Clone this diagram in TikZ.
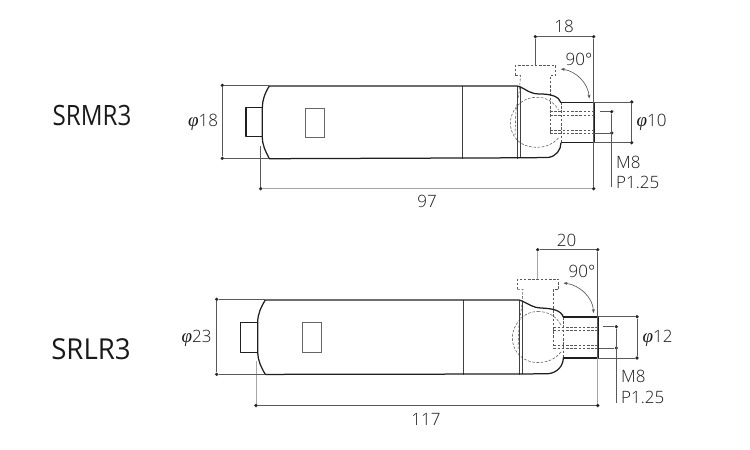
\documentclass[tikz,border=0pt]{standalone}
\usepackage{fontspec}
\setmainfont{Open Sans Light}
\newfontfamily\titlefont[FakeStretch=0.88]{Open Sans}
\newfontfamily\phifont{Liberation Serif}
\usetikzlibrary{arrows.meta}
\newcommand{\ph}{{\phifont\itshape\fontsize{19}{19}\selectfont φ}}
\tikzset{
  outline/.style={draw=black!88,line width=1.25pt,line join=round},
  thinbody/.style={draw=black!75,line width=0.7pt},
  hidden/.style={draw=black!65,line width=0.55pt,dash pattern=on 2.6pt off 1.6pt},
  dim/.style={draw=black!65,line width=0.6pt},
  dimgrey/.style={draw=black!35,line width=0.9pt},
  dot/.style={circle,fill=black!85,inner sep=0pt,minimum size=3.6pt},
  lab/.style={inner sep=0pt,font=\fontsize{17}{18}\selectfont,text=black!90},
  lableft/.style={lab,anchor=west},
  title/.style={inner sep=0pt,font=\titlefont\fontsize{28}{30}\selectfont,text=black!90},
  angle/.style={draw=black!70,line width=0.6pt,{Stealth[length=4pt,width=3pt]}-{Stealth[length=4pt,width=3pt]}}
}
\begin{document}
\begin{tikzpicture}[x=1pt,y=-1pt]
\useasboundingbox (0,0) rectangle (750,450);
% ---------- SRMR3 ----------
\node[title] (t1) at (92,115) {\scalebox{0.98}[1]{SRMR3}};
\draw[hidden] (515.3,75.5) -- (515.3,65.5) -- (555.7,65.5) -- (555.7,75.5) -- (550,75.5) -- (550,133.5);
\draw[hidden] (515.3,75.5) -- (520.5,75.5) -- (519.5,90) -- (516,110) -- (515,135);
\draw[hidden] (536.7,97.3) .. controls (546,97) and (554,102) .. (558.5,110);
\draw[hidden] (558.5,138) .. controls (553,144) and (546,147.3) .. (536.7,147.3) .. controls (526,147.3) and (518,143) .. (513.5,135) .. controls (509,127) and (509.5,118) .. (514,110.5) .. controls (519,102) and (527,97.3) .. (536.7,97.3);
\draw[hidden] (550,111.7) -- (594,111.7) (550,115.2) -- (594,115.2) (550,130.7) -- (594,130.7) (550,133.5) -- (594,133.5);
\draw[hidden] (561,102) -- (561,143);
\draw[thinbody] (462.5,86) -- (462.5,158.7) (517.7,86) -- (517.7,158.7) (520.3,87) -- (520.3,158);
\draw[outline] (262.3,107.7) -- (246,107.7) -- (246,136.8) -- (262.3,136.8);
\draw[outline] (520.5,157.8) -- (269.3,158.7) .. controls (265,150) and (262.3,145) .. (262.3,136.8) -- (262.3,107.7) .. controls (262.3,100) and (265,93) .. (269.3,86) -- (517,86) -- (520.5,87) .. controls (527,90) and (530,94) .. (540,94) .. controls (550,94) and (559,96) .. (561,102.7);
\draw[outline] (520.5,157.8) -- (548,157.5) .. controls (556,156.5) and (561,150) .. (561,142.7);
\draw[outline] (561,102.7) -- (594.2,102.7) -- (594.2,142.7) -- (561,142.7);
\draw[draw=black!60,line width=0.7pt] (305.3,108.3) rectangle (324.7,137);
\node[dot] (a1) at (535.3,36.7) {};
\node[dot] (a2) at (593.7,36.7) {};
\coordinate (a1e) at (535.3,65.5);
\draw[dim] (a1) -- (a2) (a1) -- (a1e);
\node[lab] (l18) at (564,26) {18};
\node[lab] (l90a) at (579,59) {90°};
\coordinate (ang1a) at (560.7,69);
\coordinate (ang1b) at (589.3,98.5);
\draw[angle] (ang1a) .. controls (576,71) and (588,83) .. (ang1b);
\node[dot] (b1) at (260.7,188.7) {};
\node[dot] (b2) at (593.7,188.7) {};
\coordinate (b1e) at (260.7,146);
\draw[dim] (a2) -- (b2) (b1) -- (b1e);
\draw[dimgrey] (b1) -- (b2);
\node[lab] (l97) at (427,201) {97};
\node[dot] (c1) at (222.3,85.3) {};
\node[dot] (c2) at (222.3,158.3) {};
\coordinate (c1e) at (269.3,85.3);
\coordinate (c2e) at (269.3,158.3);
\draw[dim] (c1) -- (c2) (c1) -- (c1e) (c2) -- (c2e);
\node[lab] (lp18) at (203,122.5) {\ph18};
\node[dot] (d1) at (631.7,102) {};
\node[dot] (d2) at (631.7,142.7) {};
\coordinate (d1e) at (594.2,102);
\coordinate (d2e) at (594.2,142.7);
\draw[dim] (d1) -- (d2) (d1) -- (d1e) (d2) -- (d2e);
\node[lab] (lp10) at (651.5,122.5) {\ph10};
\node[dot] (e1) at (611.7,111.7) {};
\node[dot] (e2) at (611.7,133) {};
\coordinate (e1e) at (600,111.7);
\coordinate (e2e) at (594.2,133);
\coordinate (e3) at (611.7,187);
\draw[dim] (e1) -- (e3) (e1) -- (e1e) (e2) -- (e2e);
\node[lableft] (m1) at (616,162) {M8};
\node[lableft] (p1) at (616,182) {P1.25};
% ---------- SRLR3 ----------
\node[title] (t2) at (91,349) {\scalebox{1.12}[1.03]{SRLR3}};
\draw[hidden] (517.3,289.3) -- (517.3,279) -- (558.7,279) -- (558.7,289.3) -- (553.3,289.3) -- (553.3,349);
\draw[hidden] (517.3,289.3) -- (523,289.3) -- (522,304) -- (519,325) -- (518,350);
\draw[hidden] (538,311.5) .. controls (548,311.5) and (556,316) .. (561,325);
\draw[hidden] (561,352) .. controls (555,359) and (548,362.5) .. (538,362.5) .. controls (528,362.5) and (520,358) .. (515.5,350) .. controls (511,342) and (511.5,332) .. (516,325) .. controls (521,316) and (529,311.5) .. (538,311.5);
\draw[hidden] (553.3,327.3) -- (598.5,327.3) (553.3,330.3) -- (598.5,330.3) (553.3,345.7) -- (598.5,345.7) (553.3,348.3) -- (598.5,348.3);
\draw[hidden] (563.3,317) -- (563.3,358);
\draw[thinbody] (463.5,300) -- (463.5,374.5) (519.5,300) -- (519.5,374.5) (522,301) -- (522,374);
\draw[outline] (257.7,322.3) -- (240.7,322.3) -- (240.7,352.3) -- (257.7,352.3);
\draw[outline] (522,374) -- (265.3,374.4) .. controls (261,367) and (257.7,360) .. (257.7,352.3) -- (257.7,322.3) .. controls (257.7,314) and (261,307) .. (265.3,300) -- (519,300) -- (522,301) .. controls (529,304) and (532,307.5) .. (541,308) .. controls (552,308.5) and (561,310) .. (563.3,317);
\draw[outline] (522,374) -- (548,373.7) .. controls (557,373) and (563.3,366) .. (563.3,358);
\draw[outline] (563.3,317) -- (598.5,317) -- (598.5,358) -- (563.3,358);
\draw[draw=black!60,line width=0.7pt] (302,322.3) rectangle (321.7,352.3);
\node[dot] (f1) at (537.7,249.7) {};
\node[dot] (f2) at (597.7,249.7) {};
\coordinate (f1e) at (537.7,279);
\coordinate (f2m) at (597.7,358);
\draw[dim] (f1) -- (f2) (f2) -- (f2m);
\draw[dimgrey] (f1) -- (f1e);
\node[lab] (l20) at (566.5,240) {20};
\node[lab] (l90b) at (582,271) {90°};
\coordinate (ang2a) at (563.5,283);
\coordinate (ang2b) at (593.5,313);
\draw[angle] (ang2a) .. controls (580,285) and (593,298) .. (ang2b);
\node[dot] (g1) at (256,405.5) {};
\node[dot] (g2) at (597.7,405.5) {};
\coordinate (g1e) at (256,361);
\draw[dimgrey] (g1) -- (g1e) (f2m) -- (g2);
\draw[dim] (g1) -- (g2);
\node[lab] (l117) at (426,419) {117};
\node[dot] (h1) at (216.7,299.3) {};
\node[dot] (h2) at (216.7,374.3) {};
\coordinate (h1e) at (265.3,299.3);
\coordinate (h2e) at (265.3,374.3);
\draw[dim] (h1) -- (h2) (h1) -- (h1e) (h2) -- (h2e);
\node[lab] (lp23) at (196.5,338) {\ph23};
\node[dot] (i1) at (637,316.7) {};
\node[dot] (i2) at (637,358) {};
\coordinate (i1e) at (598.5,316.7);
\coordinate (i2e) at (598.5,358);
\draw[dim] (i1) -- (i2) (i1) -- (i1e) (i2) -- (i2e);
\node[lab] (lp12) at (657.5,338) {\ph12};
\node[dot] (j1) at (616.3,326.7) {};
\node[dot] (j2) at (616.3,348) {};
\coordinate (j1e) at (603,326.7);
\coordinate (j2e) at (598.5,348);
\coordinate (j3) at (616.3,403);
\draw[dim] (j1) -- (j3) (j1) -- (j1e) (j2) -- (j2e);
\node[lableft] (m2) at (621,376) {M8};
\node[lableft] (p2) at (621,397) {P1.25};
\end{tikzpicture}
\end{document}
